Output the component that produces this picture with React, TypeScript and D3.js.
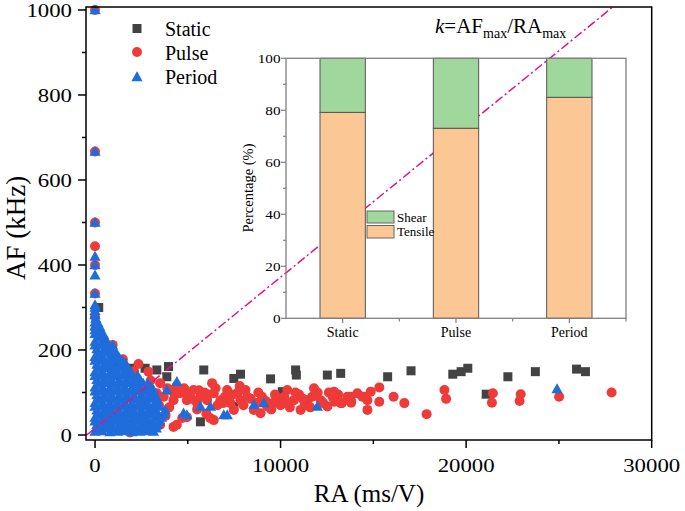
import React from 'react';
import * as d3 from 'd3';

// ---------- data ----------
const xTickValues = [0, 10000, 20000, 30000];
const xMinorTicks = [5000, 15000, 25000];
const yTickValues = [0, 200, 400, 600, 800, 1000];
const yMinorTicks = [100, 300, 500, 700, 900];

const staticPts: [number, number][] = [
  [200, 300], [600, 210], [1200, 165], [1890, 157], [2700, 157], [3330, 153], [3960, 161], [3870, 137],
  [5860, 153], [7480, 133], [7840, 143], [9460, 132], [10810, 153], [10850, 141],
  [12520, 141], [13240, 145], [10090, 102], [7480, 67], [5680, 31],
  [15770, 137], [17030, 151], [19280, 143], [19730, 149], [20090, 157], [21080, 96],
  [22250, 137], [23730, 149], [25950, 155], [26430, 149],
];

const pulsePts: [number, number][] = [
  [0, 1000], [0, 667], [0, 500], [0, 444], [0, 400], [0, 333], [0, 278], [30, 250],
  [450, 226], [950, 212], [1500, 178], [2100, 150], [2340, 167], [2880, 149], [3000, 128], [1890, 6],
  [3510, 122], [3330, 98], [4050, 106], [4230, 82], [4590, 98], [4950, 82], [5310, 106],
  [5680, 90], [6040, 82], [6310, 122], [6400, 98], [6760, 82], [7120, 106], [7480, 59],
  [7840, 82], [8110, 106], [8560, 59], [8920, 51], [9280, 67], [9820, 82], [10360, 106],
  [10720, 82], [11080, 59], [11440, 82], [11800, 110], [12160, 82], [12520, 67], [13060, 82],
  [13600, 90], [14140, 98],
  [3330, 20], [3510, 24], [4230, 19], [4410, 24], [4950, 42], [6400, 35], [5500, 60], [6000, 50],
  [3800, 45], [4000, 65], [3450, 70], [4700, 40], [6200, 40],
  [3700, 90], [4400, 115], [5000, 95], [5500, 75], [5900, 100], [6600, 70], [7000, 90], [7300, 75],
  [7700, 100], [8000, 70], [8400, 85], [8700, 75], [9000, 90], [9500, 60], [9600, 75], [10000, 70],
  [10200, 90], [10500, 65], [11000, 95], [11300, 70], [11600, 65], [12000, 100], [12300, 75],
  [12800, 90], [13300, 75], [13800, 80], [14500, 90],
  [3900, 110], [4300, 95], [4800, 110], [5200, 85], [5600, 105], [6100, 95], [6500, 110], [6900, 75],
  [7400, 95], [7800, 115], [8200, 90], [8800, 100], [9200, 80], [9700, 95], [10300, 80], [10800, 100],
  [11200, 85], [11700, 90], [12600, 100], [13100, 95],
  [12880, 102], [12900, 78], [13240, 75], [13780, 90], [13800, 76], [14410, 90], [14680, 82],
  [14680, 59], [14860, 102], [15320, 112], [15320, 78], [16090, 90], [16670, 75], [17870, 49],
  [18830, 106], [18920, 85], [21440, 98], [21390, 76], [22940, 96], [22880, 80], [25010, 90],
  [27840, 100],
];

const periodPts: [number, number][] = [
  [0, 1000], [0, 667], [0, 500], [0, 420], [0, 400], [0, 376], [0, 333], [0, 306], [0, 282], [0, 292], [0, 300],
  [0, 8], [400, 9], [810, 7], [1200, 8], [1590, 9], [2000, 7], [2410, 8], [2800, 9], [3150, 8],
  [200, 16], [600, 17], [1000, 15], [1400, 16], [1800, 17], [2200, 15], [2600, 16], [3000, 17], [3300, 16],
  [100, 24], [500, 25], [900, 23], [1300, 24], [1700, 25], [2100, 23], [2500, 24], [2900, 25], [3350, 24],
  [0, 32], [300, 33], [700, 31], [1100, 32], [1500, 33], [1900, 31], [2300, 32], [2700, 33], [3100, 31], [3480, 32],
  [0, 41], [400, 40], [800, 42], [1200, 41], [1600, 40], [2000, 42], [2400, 41], [2800, 40], [3200, 42], [3580, 41],
  [200, 49], [600, 50], [1000, 48], [1400, 49], [1800, 50], [2200, 48], [2600, 49], [3000, 50], [3400, 48], [3700, 49],
  [100, 58], [500, 59], [900, 57], [1300, 58], [1700, 59], [2100, 57], [2500, 58], [2900, 59], [3300, 57], [3780, 58],
  [0, 67], [300, 68], [700, 66], [1100, 67], [1500, 68], [1900, 66], [2300, 67], [2700, 68], [3100, 66], [3500, 67],
  [0, 76], [400, 77], [800, 75], [1200, 76], [1600, 77], [2000, 75], [2400, 76], [2800, 77], [3250, 75],
  [200, 85], [600, 86], [1000, 84], [1400, 85], [1800, 86], [2200, 84], [2600, 85], [3000, 86], [3350, 84],
  [100, 94], [500, 95], [900, 93], [1300, 94], [1700, 95], [2100, 93], [2500, 94], [2900, 95], [3250, 93],
  [0, 103], [300, 104], [700, 102], [1100, 103], [1500, 104], [1900, 102], [2300, 103], [2700, 104], [3100, 102],
  [0, 112], [400, 113], [800, 111], [1200, 112], [1600, 113], [2000, 111], [2400, 112], [2800, 113], [3050, 111],
  [200, 121], [600, 122], [1000, 120], [1400, 121], [1800, 122], [2200, 120], [2600, 121], [2850, 122],
  [100, 130], [500, 131], [900, 129], [1300, 130], [1700, 131], [2100, 129], [2300, 130],
  [0, 139], [300, 140], [700, 138], [1100, 139], [1500, 140], [1900, 138], [2300, 139],
  [0, 148], [400, 149], [800, 147], [1200, 148], [1600, 149], [1950, 147],
  [200, 157], [600, 158], [1000, 156], [1400, 157], [1700, 158],
  [100, 166], [500, 167], [900, 165], [1300, 166], [1650, 168],
  [0, 175], [300, 176], [700, 174], [1100, 175], [1450, 176],
  [0, 184], [400, 185], [800, 183], [1150, 184], [1300, 181],
  [200, 193], [600, 194], [900, 192], [1150, 193],
  [100, 202], [500, 203], [880, 201],
  [0, 211], [300, 212], [700, 210], [950, 211],
  [0, 220], [400, 221], [650, 219],
  [200, 229], [500, 230],
  [0, 238], [100, 239], [450, 237],
  [0, 247], [300, 246],
  [0, 256], [250, 255],
  [0, 265], [150, 264],
  [40, 274],
  [2430, 129], [3150, 106], [3870, 106], [4410, 125], [4770, 51], [5680, 67], [6220, 67],
  [6940, 47], [4950, 47], [7130, 47], [8560, 71], [9100, 75], [11980, 67], [24900, 108],
];

const kLine: [number, number][] = [[-450, 0], [27900, 1007]];

const categories = ['Static', 'Pulse', 'Period'];
const tensile = [79.2, 73.1, 85.0];
const shear = [20.8, 26.9, 15.0];
const insetTicks = [0, 20, 40, 60, 80, 100];
const insetMinor = [10, 30, 50, 70, 90];

// ---------- styles ----------
const SERIF = 'Liberation Serif, Times New Roman, serif';
const C_STATIC = '#434343';
const C_PULSE = '#ef3a3a';
const C_PERIOD = '#1f6ddb';
const C_TENSILE = '#fbc795';
const C_SHEAR = '#9fd79c';
const C_LINE = '#e6127f';

const squarePath = 'M-4.5,-4.5H4.5V4.5H-4.5Z';
const circlePath = d3.symbol(d3.symbolCircle, Math.PI * 25)() as string;
const trianglePath = 'M0,-5.8L5.6,4.2L-5.6,4.2Z';

export default function App() {
  const x = d3.scaleLinear().domain([-486, 30000]).range([86, 651.7]);
  const y = d3.scaleLinear().domain([-11.8, 1007]).range([440, 7]);

  const ix = d3.scalePoint<string>().domain(categories).range([286, 626]).padding(0.5);
  const step = ix.step();
  const bw = step * 0.4;
  const iy = d3.scaleLinear().domain([0, 100]).range([318.3, 58.3]);

  const lineGen = d3.line<[number, number]>().x((d) => x(d[0])).y((d) => y(d[1]));

  const digitScale = 'scale(1.17,1)';

  return (
    <svg width={685} height={511} style={{ position: 'absolute', left: 0, top: 0, background: '#fff' }}
      fontFamily={SERIF}>
      <rect x={0} y={0} width={685} height={511} fill="#fff" />
      {/* scatter */}
      <g>
        {staticPts.map((d, i) => (
          <path key={'s' + i} d={squarePath} transform={`translate(${x(d[0])},${y(d[1])})`} fill={C_STATIC} />
        ))}
        {pulsePts.map((d, i) => (
          <path key={'p' + i} d={circlePath} transform={`translate(${x(d[0])},${y(d[1])})`} fill={C_PULSE} />
        ))}
        {periodPts.map((d, i) => (
          <path key={'t' + i} d={trianglePath} transform={`translate(${x(d[0])},${y(d[1])})`} fill={C_PERIOD} />
        ))}
      </g>
      {/* k line */}
      <path d={lineGen(kLine) as string} fill="none" stroke={C_LINE} strokeWidth={1.5} strokeDasharray="9 3 2 3" />

      {/* frame */}
      <rect x={86} y={7} width={651.7 - 86} height={433} fill="none" stroke="#000" strokeWidth={1.5} />
      {/* y axis ticks */}
      {yTickValues.map((v) => (
        <g key={'yt' + v}>
          <line x1={78} x2={86} y1={y(v)} y2={y(v)} stroke="#000" strokeWidth={1.5} />
          <text transform={`translate(72,${y(v) + 7}) ${digitScale}`} textAnchor="end" fontSize={19.5}>{v}</text>
        </g>
      ))}
      {yMinorTicks.map((v) => (
        <line key={'ym' + v} x1={82} x2={86} y1={y(v)} y2={y(v)} stroke="#000" strokeWidth={1.5} />
      ))}
      {xTickValues.map((v) => (
        <g key={'xt' + v}>
          <line x1={x(v)} x2={x(v)} y1={440} y2={448} stroke="#000" strokeWidth={1.5} />
          <text transform={`translate(${x(v)},472) ${digitScale}`} textAnchor="middle" fontSize={19.5}>{v}</text>
        </g>
      ))}
      {xMinorTicks.map((v) => (
        <line key={'xm' + v} x1={x(v)} x2={x(v)} y1={440} y2={444} stroke="#000" strokeWidth={1.5} />
      ))}
      <text x={369} y={502} textAnchor="middle" fontSize={25}>RA (ms/V)</text>
      <text transform="translate(25,228) rotate(-90)" textAnchor="middle" fontSize={27}>AF (kHz)</text>

      {/* k label */}
      <text x={435} y={33} fontSize={21}>
        <tspan fontStyle="italic">k</tspan>
        <tspan>=AF</tspan>
        <tspan fontSize={14} dy={5}>max</tspan>
        <tspan dy={-5}>/RA</tspan>
        <tspan fontSize={14} dy={5}>max</tspan>
      </text>

      {/* legend */}
      <path d={squarePath} transform="translate(137,28.5)" fill={C_STATIC} />
      <text x={165} y={35.5} fontSize={20}>Static</text>
      <path d={circlePath} transform="translate(137,52)" fill={C_PULSE} />
      <text x={165} y={59.5} fontSize={20}>Pulse</text>
      <path d={trianglePath} transform="translate(137,77)" fill={C_PERIOD} />
      <text x={165} y={83.5} fontSize={20}>Period</text>

      {/* inset */}
      <g>
        {categories.map((c, i) => (
          <g key={'bar' + c}>
            <rect x={(ix(c) as number) - bw / 2} y={iy(tensile[i])} width={bw} height={iy(0) - iy(tensile[i])}
              fill={C_TENSILE} stroke="#555" strokeWidth={1} />
            <rect x={(ix(c) as number) - bw / 2} y={iy(tensile[i] + shear[i])} width={bw}
              height={iy(tensile[i]) - iy(tensile[i] + shear[i])} fill={C_SHEAR} stroke="#555" strokeWidth={1} />
          </g>
        ))}
        <rect x={286} y={58.3} width={340} height={260} fill="none" stroke="#808080" strokeWidth={1.3} />
        {insetTicks.map((v) => (
          <g key={'it' + v}>
            <line x1={281} x2={286} y1={iy(v)} y2={iy(v)} stroke="#808080" strokeWidth={1.2} />
            <text transform={`translate(280.5,${iy(v) + 4.3}) scale(1.27,1)`} textAnchor="end" fontSize={12}>{v}</text>
          </g>
        ))}
        {insetMinor.map((v) => (
          <line key={'im' + v} x1={283} x2={286} y1={iy(v)} y2={iy(v)} stroke="#808080" strokeWidth={1.2} />
        ))}
        {categories.map((c) => (
          <g key={'ixt' + c}>
            <line x1={ix(c)} x2={ix(c)} y1={318.3} y2={323} stroke="#808080" strokeWidth={1.2} />
            <line x1={(ix(c) as number) + step / 2} x2={(ix(c) as number) + step / 2} y1={318.3} y2={321.5}
              stroke="#808080" strokeWidth={1.2} />
            <text x={ix(c)} y={337} textAnchor="middle" fontSize={14}>{c}</text>
          </g>
        ))}
        <text transform="translate(253,188) rotate(-90)" textAnchor="middle" fontSize={14.5}>Percentage (%)</text>
        <rect x={367} y={211} width={27} height={12} fill={C_SHEAR} stroke="#666" strokeWidth={1} />
        <text x={397} y={221.5} fontSize={13}>Shear</text>
        <rect x={367} y={225.5} width={27} height={12.5} fill={C_TENSILE} stroke="#666" strokeWidth={1} />
        <text x={397} y={235.5} fontSize={13}>Tensile</text>
      </g>
    </svg>
  );
}
